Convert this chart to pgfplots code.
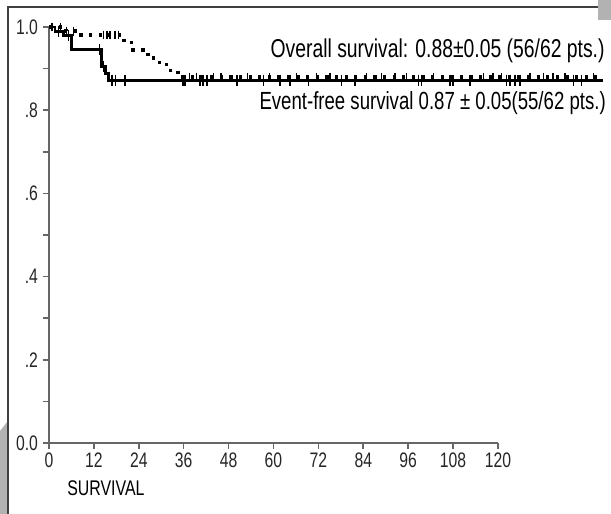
\documentclass[border=0pt]{standalone}
\usepackage{fontspec}
\setmainfont{Liberation Sans}[FakeStretch=0.82]
\newfontfamily\narrowfont{Liberation Sans}[FakeStretch=0.75]
\usepackage{pgfplots}
\pgfplotsset{compat=1.18}
\begin{document}
\begin{tikzpicture}
\useasboundingbox (-24.5pt,-35.5pt) rectangle (281pt,221.5pt);
% scan frame and shaded edges
\fill[black!30] (-24.5pt,6pt) -- (-20.5pt,11pt) -- (-20.5pt,-35.5pt) -- (-24.5pt,-35.5pt) -- cycle;
\fill[black!30] (274.5pt,221.5pt) rectangle (281pt,211.5pt);
\draw[black!75, line width=0.9pt] (-20.5pt,-35.5pt) -- (-20.5pt,218pt) -- (274.5pt,218pt);
\begin{axis}[
  at={(0pt,0pt)}, anchor=south west,
  scale only axis, width=224.5pt, height=208pt,
  xmin=0, xmax=120, ymin=0, ymax=1,
  clip=false,
  axis lines=left,
  axis line style={-, draw=black!60, line width=0.8pt},
  xtick={0,12,24,36,48,60,72,84,96,108,120},
  ytick={0,0.2,0.4,0.6,0.8,1.0},
  yticklabels={0.0,.2,.4,.6,.8,1.0},
  minor ytick={0.1,0.3,0.5,0.7,0.9},
  tick align=outside,
  major tick length=3pt, minor tick length=3pt,
  every tick/.style={draw=black!60, line width=0.8pt},
  tick label style={font=\narrowfont\fontsize{10.5}{12}\selectfont, text=black!85},
  xticklabel style={yshift=1.5pt},
  yticklabel style={xshift=1pt},
  /pgf/number format/assume math mode=true,
]
% Event-free survival (solid)
\addplot[const plot, black, line width=1.4pt] coordinates {
  (0,1.0) (1.6,0.99) (3.8,0.979) (6.1,0.945) (14.1,0.906) (15.0,0.889) (15.8,0.872) (148,0.872)
};
% Overall survival (dashed)
\addplot[const plot, black, line width=1.7pt, dash pattern=on 1.6pt off 3.2pt] coordinates {
  (0,1.0) (4.5,0.99) (8,0.981) (20,0.963) (22.5,0.945) (26.5,0.925) (29.5,0.91) (32.5,0.895) (34.5,0.88) (148,0.88)
};
% censor ticks, event-free
\addplot[only marks, mark=|, mark size=2.8pt, black, mark options={line width=0.7pt}] coordinates {
  (2.5,0.99) (5.2,0.979) (13.5,0.945) (14.6,0.906) (16.8,0.872) (17.7,0.872) (20.3,0.872)
  (35.8,0.872) (36.4,0.872) (40.4,0.872) (41.2,0.872) (42.2,0.872) (50.2,0.872) (57.3,0.872)
  (61.7,0.872) (64.4,0.872) (69.3,0.872) (78.2,0.872) (81.8,0.872) (98.7,0.872) (99.6,0.872)
  (107.2,0.872) (108,0.872) (112.5,0.872) (122.3,0.872) (123.2,0.872) (124.5,0.872) (125.9,0.872)
  (140.1,0.872) (142.3,0.872)
};
% censor ticks, overall
\addplot[only marks, mark=|, mark size=2.2pt, black, mark options={line width=0.7pt}] coordinates {
  (0.8,1.0) (3.0,1.0) (4.7,0.99) (6.5,0.99) (14.5,0.981) (15.5,0.981) (16.3,0.981) (17.6,0.981) (18.5,0.981)
  (37.5,0.88) (39.5,0.88) (44,0.88) (46,0.88) (53,0.88) (59,0.88) (66.2,0.88) (71.5,0.88) (75.1,0.88)
  (84.9,0.88) (88.9,0.88) (92.5,0.88) (95.6,0.88) (102.7,0.88) (116.1,0.88) (118.7,0.88) (121,0.88)
  (128.5,0.88) (132.1,0.88) (134.7,0.88) (137.9,0.88) (145.5,0.88)
};
\node[anchor=east, font=\narrowfont\fontsize{12.9}{15}\selectfont, inner sep=0pt] at (axis cs:148.6,0.942) {Overall survival: 0.88±0.05 (56/62 pts.)};
\node[anchor=east, font=\narrowfont\fontsize{12.4}{15}\selectfont, inner sep=0pt] at (axis cs:148.9,0.817) {Event-free survival 0.87 ± 0.05(55/62 pts.)};
\node[anchor=west, font=\narrowfont\fontsize{10.6}{12}\selectfont, inner sep=0pt] at (axis cs:4.8,-0.108) {SURVIVAL};
\end{axis}
\end{tikzpicture}
\end{document}
